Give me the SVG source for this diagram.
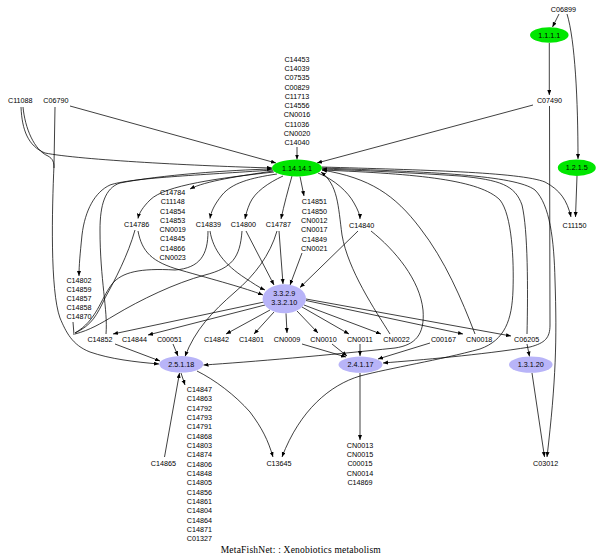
<svg xmlns="http://www.w3.org/2000/svg" width="600" height="558" viewBox="0 0 600 558">
<defs>
<marker id="ah" markerUnits="userSpaceOnUse" markerWidth="6" markerHeight="5" refX="5" refY="2" orient="auto">
<path d="M0,0 L5,2 L0,4 z" fill="#000"/>
</marker>
<style>
text{font-family:"Liberation Sans",Arial,sans-serif;font-size:7.2px;fill:#000;text-anchor:middle}
.title{font-family:"Liberation Serif","Times New Roman",serif;font-size:9.5px}
.g{fill:#00e600;stroke:none}
.p{fill:#b8b4f8;stroke:none}
#edges path{fill:none;stroke:#000;stroke-width:0.75}
#edges path.a{marker-end:url(#ah)}
</style>
</defs>
<rect width="600" height="558" fill="#fff"/>
<g id="edges">
<path class="a" d="M297,147 L297,159.5"/>
<path class="a" d="M70,106 L276,163"/>
<path class="a" d="M533,105 L317,163"/>
<path class="a" d="M21,107 C22,130 28,146 45,153 C80,160 200,166 272,168"/>
<path d="M23,107 C25,128 34,150 48,156 C53,159 54,162 54,168"/>
<path class="a" d="M55,107 L54,165 C52,210 50,290 60,318 C66,332 72,345 90,352 C110,359 135,362 159,364"/>
<path d="M73,322 L74,335"/>
<path d="M135,230 C128,255 115,280 105,298 C97,315 92,325 75,333"/>
<path d="M208,231 C208,255 200,268 175,270 C140,268 122,272 112,284 C100,300 97,320 75,333"/>
<path d="M242,231 C240,258 232,268 205,275 C175,283 140,300 115,315 C100,324 90,330 75,334"/>
<path class="a" d="M273,171 C240,176 205,181 190,189"/>
<path class="a" d="M274,172 C220,178 165,185 150,200 C143,207 139,213 138,218.5"/>
<path class="a" d="M273,170 C200,175 130,178 110,185 C95,192 85,210 82,235 C80,255 79,265 79,276"/>
<path class="a" d="M106,334 C108,310 100,280 100,230 C100,205 105,188 120,183 C160,175 230,170 272,169"/>
<path class="a" d="M277,174 C250,178 232,183 222,195 C214,205 211,212 210,218.5"/>
<path class="a" d="M283,176 C268,183 255,192 250,203 C247,210 246,214 245,219"/>
<path class="a" d="M292,176 C288,190 284,205 281,219"/>
<path class="a" d="M300,176.5 L304,196"/>
<path class="a" d="M318,173 C335,180 348,192 354,203 C358,210 360,215 360,219"/>
<path class="a" d="M390,334 C375,310 348,270 342,235 C338,205 338,185 321,172"/>
<path class="a" d="M475,334 C462,300 445,260 420,228 C395,195 370,178 322,170"/>
<path class="a" d="M527,334 C528,290 528,230 522,205 C515,185 500,180 460,176 C400,172 350,170 322,169"/>
<path class="a" d="M322,170 C420,174 480,180 500,200 C512,215 514,260 513,290 C512,320 505,340 480,349 C440,360 390,368 360,376 C330,385 300,410 282,457"/>
<path class="a" d="M322,168 C430,172 515,175 535,190 C550,205 554,240 555,280 C557,340 556,380 547,457"/>
<path class="a" d="M322,167 C420,170 520,172 545,182 C560,190 567,200 571,217"/>
<path class="a" d="M549.5,106 L550,325 C550,338 545,343 530,347 C480,355 420,360 383,363"/>
<path class="a" d="M559,14 L552.5,27"/>
<path class="a" d="M567,14 C575,40 578,100 578,159"/>
<path class="a" d="M549.3,43 L549.3,95"/>
<path class="a" d="M577,176 L575.5,217"/>
<path class="a" d="M138,231 C142,252 152,262 180,270 C215,280 245,288 263,295"/>
<path class="a" d="M210,231 C213,250 225,265 245,278 C253,283 258,287 265,290"/>
<path class="a" d="M246,231 L274,285"/>
<path class="a" d="M279,231 L283,284"/>
<path class="a" d="M302,253 L290,285"/>
<path class="a" d="M358,231 L300,287.5"/>
<path class="a" d="M277,231 C270,255 255,275 235,292 C212,312 195,330 185,356.5"/>
<path class="a" d="M371,231 C395,250 420,280 423,310 C425,335 415,345 395,348 C330,355 250,362 203.5,365"/>
<path class="a" d="M264,302 L113,334"/>
<path class="a" d="M265,305 L148,335"/>
<path class="a" d="M270,310 L226,334"/>
<path class="a" d="M274,312 L254,334"/>
<path class="a" d="M286,313.3 L287,333"/>
<path class="a" d="M297,311 L318,333"/>
<path class="a" d="M302,307 L349,334"/>
<path class="a" d="M304,305 L381,334"/>
<path class="a" d="M306,300.5 L463,334"/>
<path class="a" d="M306,299 L511,336"/>
<path class="a" d="M115,344 L160,361"/>
<path class="a" d="M173,344 L178,356"/>
<path class="a" d="M181,373 L185,385"/>
<path class="a" d="M164.5,457 L179.5,373"/>
<path class="a" d="M197,371 C215,380 235,395 250,412 C262,428 268,440 273,457"/>
<path class="a" d="M302,344 L346,357"/>
<path class="a" d="M332,344 L347,356"/>
<path class="a" d="M360,344 L360,356"/>
<path class="a" d="M430,343 L378,359"/>
<path class="a" d="M360,373 L360,440"/>
<path class="a" d="M527,344 L529.5,356.5"/>
<path class="a" d="M532,373 L544.5,457"/>
</g>
<g id="n_1.14.14.1"><ellipse class="g" cx="297" cy="168" rx="25" ry="8.4"/><text x="297" y="170.6">1.14.14.1</text></g>
<g id="n_1.1.1.1"><ellipse class="g" cx="549.3" cy="35" rx="19.3" ry="7.8"/><text x="549.3" y="37.6">1.1.1.1</text></g>
<g id="n_1.2.1.5"><ellipse class="g" cx="576.8" cy="167.7" rx="19" ry="8.3"/><text x="576.8" y="170.3">1.2.1.5</text></g>
<g id="n_3.3.2.9"><ellipse class="p" cx="284.3" cy="298.8" rx="21.7" ry="14.5"/><text x="284.3" y="295.9">3.3.2.9</text><text x="284.3" y="305.3">3.3.2.10</text></g>
<g id="n_2.5.1.18"><ellipse class="p" cx="181.3" cy="364.3" rx="22" ry="8.3"/><text x="181.3" y="366.9">2.5.1.18</text></g>
<g id="n_2.4.1.17"><ellipse class="p" cx="360.5" cy="364.7" rx="22" ry="8.1"/><text x="360.5" y="367.3">2.4.1.17</text></g>
<g id="n_1.3.1.20"><ellipse class="p" cx="530.8" cy="364.7" rx="21.8" ry="8.1"/><text x="530.8" y="367.3">1.3.1.20</text></g>
<g id="n_C06899"><text x="563.3" y="11.9">C06899</text></g>
<g id="n_C07490"><text x="549.5" y="103.3">C07490</text></g>
<g id="n_C11088"><text x="20.3" y="103.3">C11088</text></g>
<g id="n_C06790"><text x="55.8" y="103.3">C06790</text></g>
<g id="n_top_list">
<text x="297" y="61.9">C14453</text><text x="297" y="71.2">C14039</text><text x="297" y="80.4">C07535</text><text x="297" y="89.7">C00829</text><text x="297" y="98.9">C11713</text><text x="297" y="108.2">C14556</text><text x="297" y="117.4">CN0016</text><text x="297" y="126.7">C11036</text><text x="297" y="135.9">CN0020</text><text x="297" y="145.2">C14040</text>
</g>
<g id="n_C14784_list">
<text x="172.7" y="194.9">C14784</text><text x="172.7" y="204.2">C11148</text><text x="172.7" y="213.5">C14854</text><text x="172.7" y="222.8">C14853</text><text x="172.7" y="232.1">CN0019</text><text x="172.7" y="241.4">C14845</text><text x="172.7" y="250.7">C14866</text><text x="172.7" y="260">CN0023</text>
</g>
<g id="n_C14851_list">
<text x="314.3" y="204.3">C14851</text><text x="314.3" y="213.6">C14850</text><text x="314.3" y="222.9">CN0012</text><text x="314.3" y="232.2">CN0017</text><text x="314.3" y="241.5">C14849</text><text x="314.3" y="250.8">CN0021</text>
</g>
<g id="n_C14786"><text x="136.7" y="227.3">C14786</text></g>
<g id="n_C14839"><text x="208.3" y="227.3">C14839</text></g>
<g id="n_C14800"><text x="243.3" y="227.3">C14800</text></g>
<g id="n_C14787"><text x="278.3" y="227.3">C14787</text></g>
<g id="n_C14840"><text x="361.7" y="227.6">C14840</text></g>
<g id="n_C11150"><text x="574.5" y="227.6">C11150</text></g>
<g id="n_C14802_list">
<text x="79" y="282.6">C14802</text><text x="79" y="291.8">C14859</text><text x="79" y="301">C14857</text><text x="79" y="310.2">C14858</text><text x="79" y="319.4">C14870</text>
</g>
<g id="n_C14852"><text x="100" y="341.6">C14852</text></g>
<g id="n_C14844"><text x="134.5" y="341.6">C14844</text></g>
<g id="n_C00051"><text x="169.5" y="341.6">C00051</text></g>
<g id="n_C14842"><text x="216.5" y="341.6">C14842</text></g>
<g id="n_C14801"><text x="251.5" y="341.6">C14801</text></g>
<g id="n_CN0009"><text x="287" y="341.6">CN0009</text></g>
<g id="n_CN0010"><text x="323.5" y="341.6">CN0010</text></g>
<g id="n_CN0011"><text x="359.8" y="341.6">CN0011</text></g>
<g id="n_CN0022"><text x="396.5" y="341.6">CN0022</text></g>
<g id="n_C00167"><text x="443.5" y="341.6">C00167</text></g>
<g id="n_CN0018"><text x="479.2" y="341.6">CN0018</text></g>
<g id="n_C06205"><text x="526.6" y="341.6">C06205</text></g>
<g id="n_C14847_list">
<text x="199.3" y="391.9">C14847</text><text x="199.3" y="401.2">C14863</text><text x="199.3" y="410.6">C14792</text><text x="199.3" y="419.9">C14793</text><text x="199.3" y="429.2">C14791</text><text x="199.3" y="438.6">C14868</text><text x="199.3" y="447.9">C14803</text><text x="199.3" y="457.2">C14874</text><text x="199.3" y="466.5">C14806</text><text x="199.3" y="475.9">C14848</text><text x="199.3" y="485.2">C14805</text><text x="199.3" y="494.5">C14856</text><text x="199.3" y="503.9">C14861</text><text x="199.3" y="513.2">C14804</text><text x="199.3" y="522.5">C14864</text><text x="199.3" y="531.8">C14871</text><text x="199.3" y="541.2">C01327</text>
</g>
<g id="n_C14865"><text x="163.3" y="465.9">C14865</text></g>
<g id="n_C13645"><text x="279" y="465.9">C13645</text></g>
<g id="n_C03012"><text x="545.7" y="465.9">C03012</text></g>
<g id="n_CN0013_list">
<text x="360" y="447.6">CN0013</text><text x="360" y="456.9">CN0015</text><text x="360" y="466.2">C00015</text><text x="360" y="475.5">CN0014</text><text x="360" y="484.8">C14869</text>
</g>
<text class="title" x="300.7" y="553" textLength="160" lengthAdjust="spacing">MetaFishNet: : Xenobiotics metabolism</text>
</svg>
